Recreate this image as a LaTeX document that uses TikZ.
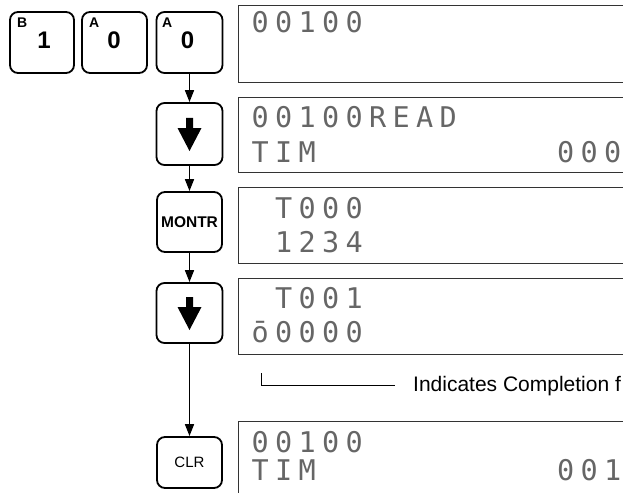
\documentclass[tikz,border=0pt]{standalone}
\usepackage{fontspec}
\setmainfont{Liberation Sans}
\newfontfamily\lcdfont{DejaVu Sans Mono}
\usetikzlibrary{arrows.meta}
\newlength\lcdpitch \setlength\lcdpitch{23.5pt}
\def\lcdloop#1{\ifx#1\relax\else\makebox[\lcdpitch][c]{#1}\expandafter\lcdloop\fi}
\newcommand\lcdline[1]{\lcdloop#1\relax}
\tikzset{
  keybox/.style={draw, rounded corners=8pt, line width=1.8pt, inner sep=0pt, font=\fontsize{15}{15}\selectfont},
  lcdbox/.style={draw=black!80, line width=0.9pt},
  lcd/.style={inner sep=0pt, anchor=base west, text=black!60, font=\lcdfont\fontsize{28.5}{28.5}\selectfont},
  keysup/.style={inner sep=0pt, anchor=base west, font=\bfseries\fontsize{14}{14}\selectfont},
  keybig/.style={inner sep=0pt, anchor=base, font=\bfseries\fontsize{24}{24}\selectfont},
  flow/.style={line width=1.6pt, -{Triangle[length=12pt,width=9pt]}},
  note/.style={inner sep=0pt, anchor=base west, font=\fontsize{21}{21}\selectfont}
}
\begin{document}
\begin{tikzpicture}[x=1pt,y=-1pt]
\useasboundingbox (0,0) rectangle (623,492);
\clip (0,0) rectangle (623,492);
% top keys
\node[keybox, minimum width=64pt, minimum height=61pt] (k1) at (42,42.5) {};
\node[keybox, minimum width=65pt, minimum height=61pt] (k2) at (114.5,42.5) {};
\node[keybox, minimum width=66pt, minimum height=61pt] (k3) at (189.5,42.5) {};
\node[keysup] (k1s) at (17,28) {B};
\node[keybig] (k1b) at (44,49) {1};
\node[keysup] (k2s) at (89,28) {A};
\node[keybig] (k2b) at (114,49) {0};
\node[keysup] (k3s) at (162,28) {A};
\node[keybig] (k3b) at (187.5,49) {0};
% column keys
\node[keybox, minimum width=66pt, minimum height=62pt] (dn1) at (189.5,134) {};
\node[keybox, minimum width=65pt, minimum height=60pt, font=\bfseries\fontsize{15.5}{15.5}\selectfont] (montr) at (189.5,222) {MONTR};
\node[keybox, minimum width=66pt, minimum height=60pt] (dn2) at (189.5,313) {};
\node[keybox, minimum width=65pt, minimum height=51pt] (clr) at (189.5,462.5) {CLR};
\foreach \k in {dn1,dn2}{
  \begin{scope}[shift={(\k.center)}]
    \fill (-3.5,-16) -- (3.5,-16) -- (3.5,-6) -- (12,-6) -- (0,17) -- (-12,-6) -- (-3.5,-6) -- cycle;
  \end{scope}
}
% connectors
\draw[flow] (k3.south) -- (dn1.north);
\draw[flow] (dn1.south) -- (montr.north);
\draw[flow] (montr.south) -- (dn2.north);
\draw[flow] (dn2.south) -- (clr.north);
% displays
\draw[lcdbox] (238,5) rectangle (640,82);
\draw[lcdbox] (238,97) rectangle (640,172);
\draw[lcdbox] (238,187) rectangle (640,263);
\draw[lcdbox] (238,278) rectangle (640,354);
\draw[lcdbox] (238,421) rectangle (640,500);
\node[lcd] (d1a) at (248.25,33) {\lcdline{00100}};
\node[lcd] (d2a) at (248.25,128) {\lcdline{00100READ}};
\node[lcd] (d2b) at (248.25,162) {\lcdline{TIM}};
\node[lcd] (d2c) at (553.75,162) {\lcdline{000}};
\node[lcd] (d3a) at (271.75,218) {\lcdline{T000}};
\node[lcd] (d3b) at (271.75,252) {\lcdline{1234}};
\node[lcd] (d4a) at (271.75,308) {\lcdline{T001}};
\node[lcd] (d4b) at (248.25,342) {\lcdline{ō0000}};
\node[lcd] (d5a) at (248.25,452) {\lcdline{00100}};
\node[lcd] (d5b) at (248.25,480) {\lcdline{TIM}};
\node[lcd] (d5c) at (553.75,480) {\lcdline{001}};
% annotation
\coordinate (ntop) at (261,373);
\node[note] (note) at (413,391) {Indicates Completion f};
\draw[line width=0.8pt] (ntop) |- ([xshift=-18pt,yshift=6pt]note.base west);
\end{tikzpicture}
\end{document}
